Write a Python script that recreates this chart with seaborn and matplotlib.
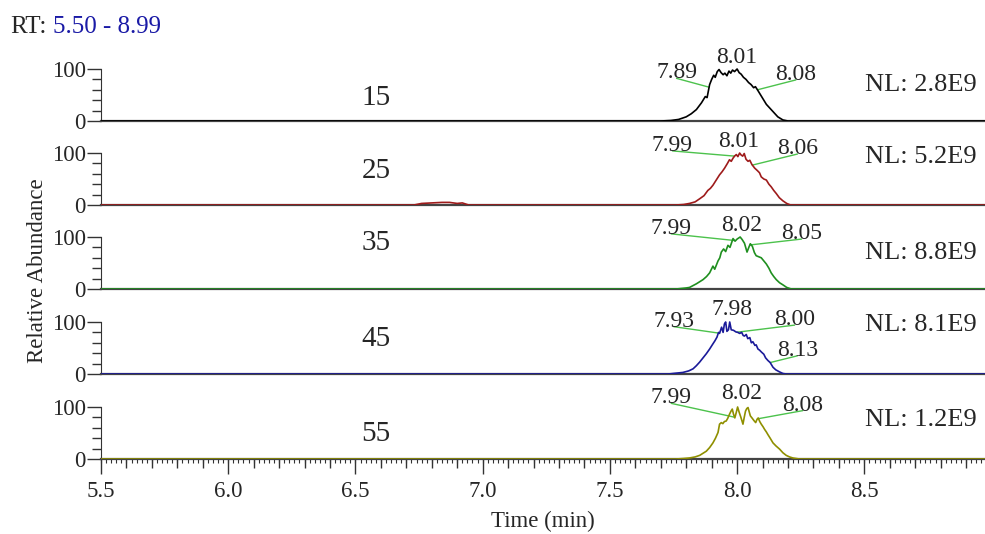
import numpy as np
import pandas as pd
import matplotlib.pyplot as plt
import seaborn as sns

# chromatogram traces (time in min, relative abundance in %)
panel_names = ["15", "25", "35", "45", "55"]
nl_values = ["2.8E9", "5.2E9", "8.8E9", "8.1E9", "1.2E9"]

rt_15 = [5.50, 7.70, 7.74, 7.77, 7.80, 7.82, 7.84, 7.86, 7.875, 7.882, 7.892, 7.900, 7.908,
         7.914, 7.922, 7.929, 7.937, 7.945, 7.952, 7.960, 7.968, 7.975, 7.982, 7.990, 8.000,
         8.008, 8.016, 8.025, 8.035, 8.045, 8.055, 8.065, 8.072, 8.080, 8.090, 8.100, 8.115,
         8.130, 8.145, 8.160, 8.180, 8.200, 8.99]
ab_15 = [0, 0, 1, 3, 8, 14, 22, 35, 47, 45, 70, 80, 88,
         84, 95, 99, 93, 89, 92, 87, 96, 92, 98, 95, 100,
         93, 90, 84, 80, 74, 70, 64, 66, 60, 52, 44, 32,
         24, 16, 8, 2, 0, 0]

rt_25 = [5.50, 6.73, 6.76, 6.80, 6.84, 6.87, 6.90, 6.92, 6.945, 7.76, 7.79, 7.813, 7.835,
         7.853, 7.870, 7.885, 7.895, 7.905, 7.918, 7.931, 7.941, 7.951, 7.962, 7.970, 7.977,
         7.984, 7.990, 7.997, 8.003, 8.010, 8.016, 8.022, 8.028, 8.035, 8.043, 8.050, 8.058,
         8.069, 8.080, 8.088, 8.095, 8.105, 8.115, 8.125, 8.134, 8.144, 8.154, 8.166, 8.180,
         8.195, 8.210, 8.99]
ab_25 = [0, 0, 3, 4, 5, 5, 3, 4, 0, 0, 1, 3, 6,
         12, 18, 28, 32, 38, 48, 58, 64, 71, 80, 87, 84,
         90, 94, 97, 93, 100, 96, 94, 99, 88, 84, 86, 78,
         71, 66, 62, 54, 50, 48, 40, 35, 28, 22, 14, 8,
         3, 0, 0]

rt_35 = [5.50, 7.76, 7.80, 7.813, 7.840, 7.866, 7.880, 7.892, 7.905, 7.912, 7.925, 7.932,
         7.938, 7.947, 7.955, 7.964, 7.972, 7.984, 7.992, 8.000, 8.012, 8.020, 8.029, 8.039,
         8.046, 8.052, 8.060, 8.068, 8.075, 8.085, 8.095, 8.105, 8.115, 8.125, 8.134, 8.144,
         8.154, 8.167, 8.180, 8.195, 8.213, 8.99]
ab_35 = [0, 0, 2, 3, 10, 18, 24, 31, 44, 38, 54, 60,
         71, 77, 72, 84, 80, 97, 92, 96, 100, 95, 88, 71,
         80, 87, 82, 70, 64, 62, 60, 54, 48, 40, 31, 24,
         18, 12, 8, 3, 0, 0]

rt_45 = [5.50, 7.73, 7.748, 7.787, 7.810, 7.827, 7.840, 7.853, 7.866, 7.879, 7.892, 7.905,
         7.913, 7.921, 7.927, 7.931, 7.939, 7.945, 7.950, 7.955, 7.960, 7.966, 7.971, 7.977,
         7.986, 7.995, 8.003, 8.010, 8.018, 8.024, 8.029, 8.036, 8.042, 8.050, 8.056, 8.062,
         8.070, 8.075, 8.082, 8.088, 8.096, 8.105, 8.112, 8.121, 8.130, 8.141, 8.152, 8.167,
         8.180, 8.193, 8.99]
ab_45 = [0, 0, 1, 3, 6, 10, 16, 23, 31, 39, 48, 58,
         64, 71, 80, 78, 90, 80, 96, 100, 82, 85, 100, 85,
         84, 81, 80, 78, 80, 74, 73, 76, 68, 70, 60, 62,
         55, 56, 48, 46, 42, 38, 31, 26, 22, 13, 8, 4,
         1, 0, 0]

rt_55 = [5.50, 7.76, 7.790, 7.813, 7.835, 7.853, 7.866, 7.879, 7.892, 7.905, 7.915, 7.925,
         7.931, 7.938, 7.944, 7.950, 7.957, 7.963, 7.970, 7.976, 7.981, 7.986, 7.991, 7.997,
         8.002, 8.008, 8.015, 8.023, 8.028, 8.033, 8.038, 8.043, 8.048, 8.052, 8.060, 8.066,
         8.073, 8.078, 8.083, 8.089, 8.095, 8.102, 8.108, 8.115, 8.121, 8.130, 8.141, 8.153,
         8.167, 8.180, 8.193, 8.206, 8.219, 8.245, 8.99]
ab_55 = [0, 0, 1, 2, 4, 7, 11, 15, 22, 31, 40, 51,
         67, 70, 68, 72, 73, 78, 86, 92, 96, 86, 79, 90,
         100, 90, 80, 67, 80, 92, 97, 99, 90, 83, 78, 74,
         70, 76, 79, 72, 67, 62, 57, 52, 47, 40, 31, 25,
         19, 12, 7, 4, 2, 0, 0]

# peak labels (retention times) for each panel
peaks_15 = ["7.89", "8.01", "8.08"]
peaks_25 = ["7.99", "8.01", "8.06"]
peaks_35 = ["7.99", "8.02", "8.05"]
peaks_45 = ["7.93", "7.98", "8.00", "8.13"]
peaks_55 = ["7.99", "8.02", "8.08"]

traces = [(rt_15, ab_15), (rt_25, ab_25), (rt_35, ab_35), (rt_45, ab_45), (rt_55, ab_55)]
peak_labels = [peaks_15, peaks_25, peaks_35, peaks_45, peaks_55]

# layout -------------------------------------------------------------
colors = ["#000000", "#9e1b1b", "#1f8f1f", "#1a1a99", "#8f8f00"]
leader = "#4cc24c"
zero_px = [121, 205, 289, 374, 459]        # pixel row of 0 % in each panel
label_y = [44, 65, 88, 67, 49]             # panel name height (in % units)
nl_y = [69, 92, 69, 94, 75]
# text anchor (time, %) for every peak label, and whether it gets a leader line
label_xy = [
    [(7.762, 82, True), (7.998, 111, False), (8.231, 79, True)],
    [(7.746, 104, True), (8.007, 111, False), (8.237, 98, True)],
    [(7.741, 106, True), (8.016, 112, False), (8.253, 96, True)],
    [(7.751, 91, True), (7.979, 114, False), (8.226, 94, True), (8.237, 35, True)],
    [(7.741, 107, True), (8.016, 116, False), (8.258, 93, True)],
]

sns.set_style("ticks")
plt.rcParams["font.family"] = ["Liberation Serif", "DejaVu Serif"]

W, H = 985, 534
fig = plt.figure(figsize=(W / 100, H / 100), dpi=100)
px_per_unit = 0.52
ytop = 160

axes = []
for i in range(5):
    rt, ab = traces[i]
    ax = fig.add_axes([101 / W, (H - zero_px[i]) / H, (989 - 101) / W, ytop * px_per_unit / H])
    ax.set_facecolor("none")
    df = pd.DataFrame({"rt": rt, "ab": ab})
    sns.lineplot(data=df, x="rt", y="ab", ax=ax, color=colors[i], lw=1.2,
                 errorbar=None, sort=False, zorder=3)
    ax.set_xlim(5.5, 8.99)
    ax.set_ylim(0, ytop)
    ax.set_xlabel("")
    ax.set_ylabel("")
    for s in ["top", "right"]:
        ax.spines[s].set_visible(False)
    ax.spines["left"].set_bounds(0, 100)
    ax.spines["left"].set_color("#333333")
    ax.spines["bottom"].set_color("#444444")
    ax.spines["bottom"].set_linewidth(1.6)
    ax.set_yticks([0, 100])
    ax.set_yticklabels(["0", "100"])
    ax.set_yticks([20, 40, 60, 80], minor=True)
    ax.tick_params(axis="y", which="major", length=10, width=1.0, color="#333333",
                   labelsize=16.5, pad=1)
    ax.tick_params(axis="y", which="minor", length=6.5, width=1.0, color="#333333")

    # panel name and NL
    ax.text(6.581, label_y[i], panel_names[i], fontsize=21, ha="center", va="center")
    ax.text(8.502, nl_y[i], "NL: " + nl_values[i], fontsize=19, ha="left", va="center")

    # peak labels with leader lines
    for lab, (tx, ty, has_line) in zip(peak_labels[i], label_xy[i]):
        ax.text(tx, ty, lab, fontsize=17, ha="center", va="baseline", zorder=4)
        if has_line:
            rt_val = float(lab)
            ax.plot([tx, rt_val], [ty, np.interp(rt_val, rt, ab)], color=leader,
                    lw=1.0, zorder=2, clip_on=False)

    if i < 4:
        ax.set_xticks([])
        ax.tick_params(axis="x", which="both", length=0, labelbottom=False)
    axes.append(ax)

# time axis on the last panel
ax = axes[-1]
ax.set_xticks(np.arange(5.5, 8.6, 0.5))
ax.set_xticklabels(["5.5", "6.0", "6.5", "7.0", "7.5", "8.0", "8.5"])
ax.set_xticks(np.arange(5.5, 8.99, 0.1), minor=True)
ax.tick_params(axis="x", which="major", length=11, width=1.0, color="#333333",
               labelsize=16.5, pad=5)
ax.tick_params(axis="x", which="minor", length=6.5, width=1.0, color="#333333")
sec = ax.secondary_xaxis("bottom")
sec.set_xticks(np.arange(5.5, 8.99, 0.02))
sec.xaxis.set_minor_locator(plt.NullLocator())
sec.tick_params(axis="x", length=3, width=0.8, color="#333333", labelbottom=False)
sec.spines["bottom"].set_visible(False)

fig.text(38 / W, 1 - 271 / H, "Relative Abundance", rotation=90, fontsize=16.5,
         ha="center", va="center")
fig.text(543 / W, 1 - 521 / H, "Time (min)", fontsize=16.5, ha="center", va="center")
fig.text(10 / W, 1 - 27 / H, "RT:", fontsize=18, ha="left", va="center")
fig.text(53 / W, 1 - 27 / H, "5.50 - 8.99", fontsize=18, ha="left", va="center",
         color="#1a1aa6")

fig.savefig("out.png", dpi=100)
